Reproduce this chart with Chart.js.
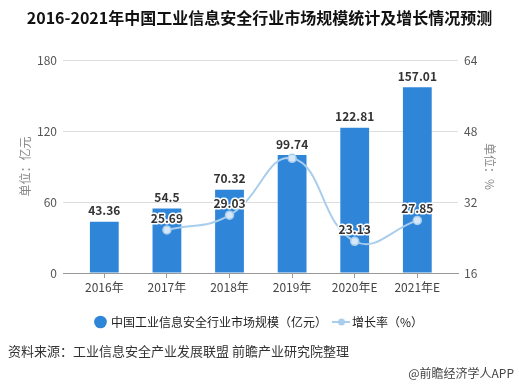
<!DOCTYPE html>
<html>
<head>
<meta charset="utf-8">
<script src="https://cdn.jsdelivr.net/npm/chart.js@4/dist/chart.umd.min.js"></script>
<style>
    html, body { margin: 0; padding: 0; background: #fff; }
    #wrap { position: relative; width: 519px; height: 386px; overflow: hidden; font-family: "Noto Sans CJK SC", "Noto Sans", sans-serif; }
    #wrap canvas { position: absolute; left: 0; top: 0; }
    .txt { position: absolute; white-space: nowrap; }
    #title { left: 0; width: 519px; top: 5px; text-align: center; font-size: 16px; font-weight: bold; color: #111; }
    #source { left: 8px; top: 341px; font-size: 13px; color: #333; }
    #mark { right: 5px; top: 364px; font-size: 12px; color: #444; }
</style>
</head>
<body>
<div id="wrap">
    <canvas id="cyberChart" width="519" height="386"></canvas>
    <div class="txt" id="title">2016-2021年中国工业信息安全行业市场规模统计及增长情况预测</div>
    <div class="txt" id="source">资料来源：工业信息安全产业发展联盟 前瞻产业研究院整理</div>
    <div class="txt" id="mark">@前瞻经济学人APP</div>
</div>
<script>
const years = ['2016年', '2017年', '2018年', '2019年', '2020年E', '2021年E'];
const marketSize = [43.36, 54.5, 70.32, 99.74, 122.81, 157.01];
const growthRate = [null, 25.69, 29.03, 41.84, 23.13, 27.85];
const hiddenRateLabels = ['2019年'];
const leftTicks = [0, 60, 120, 180];
const rightTicks = [16, 32, 48, 64];

const barColor = '#2f86d9';
const lineColor = '#a9cdec';
const fontFamily = '"Noto Sans CJK SC", "Noto Sans", sans-serif';

function toPoints(values) {
    return values.map(function (value, index) {
        return { x: index, y: value };
    });
}

function makeLineIcon() {
    const icon = document.createElement('canvas');
    icon.width = 18;
    icon.height = 10;
    const ctx = icon.getContext('2d');
    ctx.strokeStyle = lineColor;
    ctx.lineWidth = 2;
    ctx.beginPath();
    ctx.moveTo(0, 5);
    ctx.lineTo(18, 5);
    ctx.stroke();
    ctx.fillStyle = lineColor;
    ctx.beginPath();
    ctx.arc(9, 5, 3.5, 0, Math.PI * 2);
    ctx.fill();
    return icon;
}

const valueLabels = {
    id: 'valueLabels',
    afterDatasetsDraw: function (chart) {
        const ctx = chart.ctx;
        ctx.save();
        ctx.font = 'bold 12px ' + fontFamily;
        ctx.textAlign = 'center';
        ctx.textBaseline = 'middle';

        chart.getDatasetMeta(0).data.forEach(function (bar, i) {
            ctx.fillStyle = '#333';
            ctx.fillText(String(marketSize[i]), bar.x, bar.y - 11);
        });

        chart.getDatasetMeta(1).data.forEach(function (point, i) {
            const value = growthRate[i];
            if (value === null || hiddenRateLabels.indexOf(years[i]) !== -1) {
                return;
            }
            ctx.lineJoin = 'round';
            ctx.lineWidth = 3;
            ctx.strokeStyle = '#fff';
            ctx.strokeText(value.toFixed(2), point.x, point.y - 12);
            ctx.fillStyle = '#333';
            ctx.fillText(value.toFixed(2), point.x, point.y - 12);
        });
        ctx.restore();
    }
};

const lineIcon = makeLineIcon();

new Chart(document.getElementById('cyberChart'), {
    type: 'bar',
    data: {
        datasets: [
            {
                type: 'bar',
                label: '中国工业信息安全行业市场规模（亿元）',
                data: toPoints(marketSize),
                backgroundColor: barColor,
                barPercentage: 0.46,
                categoryPercentage: 1,
                yAxisID: 'y',
                pointStyle: 'circle',
                order: 2
            },
            {
                type: 'line',
                label: '增长率（%）',
                data: toPoints(growthRate),
                borderColor: lineColor,
                backgroundColor: '#d6e8f7',
                borderWidth: 2,
                pointRadius: 4,
                pointBorderWidth: 1.5,
                pointBorderColor: lineColor,
                tension: 0.45,
                yAxisID: 'y1',
                order: 1
            }
        ]
    },
    options: {
        responsive: false,
        animation: false,
        layout: {
            padding: { top: 60, bottom: 48, left: 0, right: 0 }
        },
        plugins: {
            tooltip: { enabled: false },
            legend: {
                position: 'bottom',
                labels: {
                    usePointStyle: true,
                    boxWidth: 9,
                    boxHeight: 9,
                    padding: 10,
                    color: '#222',
                    font: { family: fontFamily, size: 12 },
                    generateLabels: function (chart) {
                        const items = Chart.defaults.plugins.legend.labels.generateLabels(chart);
                        items.sort(function (a, b) { return a.datasetIndex - b.datasetIndex; });
                        items.forEach(function (item) {
                            if (item.datasetIndex === 0) {
                                item.pointStyle = 'circle';
                                item.fillStyle = barColor;
                                item.strokeStyle = barColor;
                            } else {
                                item.pointStyle = lineIcon;
                            }
                        });
                        return items;
                    }
                }
            }
        },
        scales: {
            x: {
                type: 'linear',
                offset: false,
                min: -0.66,
                max: 5.65,
                afterBuildTicks: function (scale) {
                    scale.ticks = years.map(function (_, i) { return { value: i }; });
                },
                afterFit: function (scale) {
                    scale.height = 33;
                },
                ticks: {
                    color: '#444',
                    padding: 2,
                    font: { family: fontFamily, size: 12 },
                    callback: function (value) { return years[value]; }
                },
                grid: {
                    offset: false,
                    drawOnChartArea: false,
                    tickLength: 5,
                    color: '#999'
                },
                border: { color: '#999' }
            },
            y: {
                position: 'left',
                min: 0,
                max: 180,
                afterBuildTicks: function (scale) {
                    scale.ticks = leftTicks.map(function (v) { return { value: v }; });
                },
                afterFit: function (scale) {
                    scale.width = 63;
                },
                ticks: {
                    color: '#555',
                    padding: 6,
                    font: { family: fontFamily, size: 12 }
                },
                grid: {
                    color: '#dedede',
                    drawTicks: false
                },
                border: { display: false },
                title: {
                    display: true,
                    text: '单位：亿元',
                    color: '#888',
                    padding: { top: 18 },
                    font: { family: fontFamily, size: 12 }
                }
            },
            y1: {
                position: 'right',
                min: 16,
                max: 64,
                afterBuildTicks: function (scale) {
                    scale.ticks = rightTicks.map(function (v) { return { value: v }; });
                },
                afterFit: function (scale) {
                    scale.width = 61;
                },
                ticks: {
                    color: '#555',
                    padding: 6,
                    font: { family: fontFamily, size: 12 }
                },
                grid: {
                    drawOnChartArea: false,
                    drawTicks: false
                },
                border: { display: false },
                title: {
                    display: true,
                    text: '单位：%',
                    color: '#888',
                    padding: { top: 22 },
                    font: { family: fontFamily, size: 12 }
                }
            }
        }
    },
    plugins: [valueLabels]
});
</script>
</body>
</html>
